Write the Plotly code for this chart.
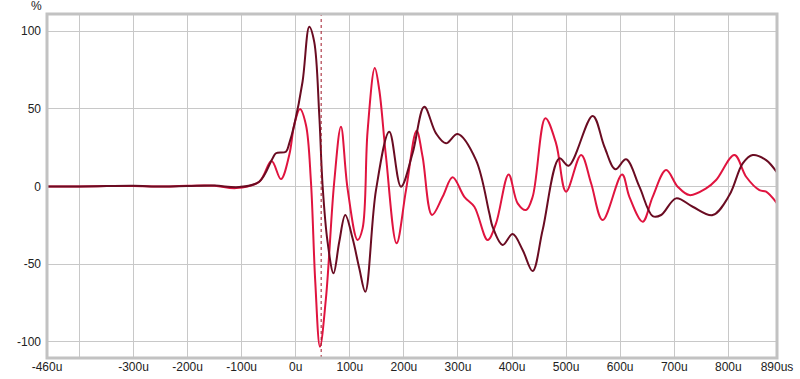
import plotly.graph_objects as go

# time in microseconds, values in %
dark_x = [-460, -400, -350, -300, -250, -200, -150, -104.5, -67.5, -42.9, -36.6, -18.1, -12.0, -2.8, 12.6,
          25.0, 34.2, 43.5, 49.6, 58.8, 69.9, 80.5, 91.6, 105.1, 117.5, 128.6, 148.4, 173.0, 194.6, 216.1,
          237.7, 259.4, 277.9, 299.4, 333.4, 358.0, 364.1, 382.6, 401.1, 419.6, 438.1, 456.6, 487.5, 504.7,
          549.1, 570.8, 591.1, 610.9, 635.5, 660.1, 675.7, 703.4, 734.1, 771.1, 802.0, 826.6, 845.1, 869.9, 890]
dark_y = [0, 0, 0.3, 0.5, 0, 0.3, 0.6, -0.3, 3.1, 18.1, 21.4, 22.4, 27.8, 39.6, 67.4,
          102.8, 93.1, 46.0, 1.0, -35.5, -55.8, -35.5, -18.3, -33.3, -52.6, -67.7, -2.3, 35.3, -0.1, 21.4,
          51.3, 34.2, 27.8, 33.8, 17.0, -17.2, -25.9, -37.6, -30.6, -40.8, -54.4, -28.0, 18.1, 13.4,
          45.4, 25.6, 11.1, 17.5, -0.1, -19.0, -18.3, -7.6, -13.0, -18.3, -5.5, 14.9, 20.3, 17.0, 9.0]

red_x = [-460, -400, -350, -300, -250, -200, -150, -110, -67.5, -44.8, -27.4, -12.0, -2.8, 7.8, 18.9,
         28.1, 36.1, 44.8, 55.9, 71.2, 83.6, 95.8, 114.3, 123.6, 132.8, 146.2, 154.5, 166.9, 186.5, 203.9,
         223.5, 234.6, 252.0, 271.6, 290.1, 311.8, 330.3, 354.9, 370.4, 393.7, 410.4, 425.9, 438.1, 461.6,
         481.4, 499.9, 527.7, 546.2, 567.6, 603.5, 617.0, 641.6, 660.1, 684.9, 706.4, 728.0, 758.9, 777.4,
         811.3, 832.9, 857.5, 869.9, 890]
red_y = [0, 0, 0.3, 0.3, 0, 0.5, 0.5, -1.0, 3.1, 16.4, 4.8, 20.3, 39.6, 49.9, 39.6,
         3.1, -61.2, -103.1, -71.7, 3.1, 38.5, -1.2, -34.4, -26.9, 35.3, 76.2, 62.1, 19.2, -36.5, -2.3,
         35.9, 19.2, -18.3, -6.6, 5.9, -6.6, -13.0, -34.4, -23.7, 7.8, -10.8, -15.1, -6.6, 43.9,
         27.8, -3.3, 20.3, 2.1, -21.6, 7.8, -6.6, -22.6, -6.6, 10.6, -0.1, -5.5, -1.2, 4.2,
         20.3, 6.3, -2.3, -3.3, -10.8]

x_tickvals = [-460, -400, -300, -200, -100, 0, 100, 200, 300, 400, 500, 600, 700, 800, 890]
x_ticktext = ["-460u", "", "-300u", "-200u", "-100u", "0u", "100u", "200u", "300u", "400u",
              "500u", "600u", "700u", "800u", "890us"]
y_tickvals = [-100, -50, 0, 50, 100]
y_ticktext = ["-100", "-50", "0", "50", "100"]
marker_x = 47

fig = go.Figure()
fig.add_trace(go.Scatter(x=red_x, y=red_y, mode="lines", line=dict(color="#e0143f", width=2, shape="spline", smoothing=1.0),
                         showlegend=False, hoverinfo="skip"))
fig.add_trace(go.Scatter(x=dark_x, y=dark_y, mode="lines", line=dict(color="#6a0c22", width=2, shape="spline", smoothing=1.0),
                         showlegend=False, hoverinfo="skip"))

fig.add_shape(type="line", x0=marker_x, x1=marker_x, y0=0, y1=1, xref="x", yref="paper",
              line=dict(color="#a01828", width=1, dash="dot"))
fig.add_shape(type="rect", x0=0, x1=1, y0=0, y1=1, xref="paper", yref="paper",
              line=dict(color="#c2c2c2", width=3))

fig.add_annotation(text="%", x=-0.0144, y=1.022, xref="paper", yref="paper", showarrow=False,
                   xanchor="center", yanchor="middle", font=dict(size=12, color="#222222", family="Liberation Sans, Arial"))

fig.update_layout(
    width=800, height=379,
    margin=dict(l=47, r=23, t=14, b=21),
    paper_bgcolor="white", plot_bgcolor="white",
    font=dict(family="Liberation Sans, Arial", size=12, color="#222222"),
    xaxis=dict(range=[-460, 890], tickvals=x_tickvals, ticktext=x_ticktext, showgrid=True,
               gridcolor="#c8c8c8", gridwidth=1, zeroline=False, showline=False, ticks="", ticklen=0,
               automargin=False, fixedrange=True),
    yaxis=dict(range=[-110.3, 111], tickvals=y_tickvals, ticktext=y_ticktext, showgrid=True,
               gridcolor="#c8c8c8", gridwidth=1, zeroline=False, showline=False, ticks="",
               automargin=False, ticklabelstandoff=5, fixedrange=True),
)

fig.write_html("out.html")
